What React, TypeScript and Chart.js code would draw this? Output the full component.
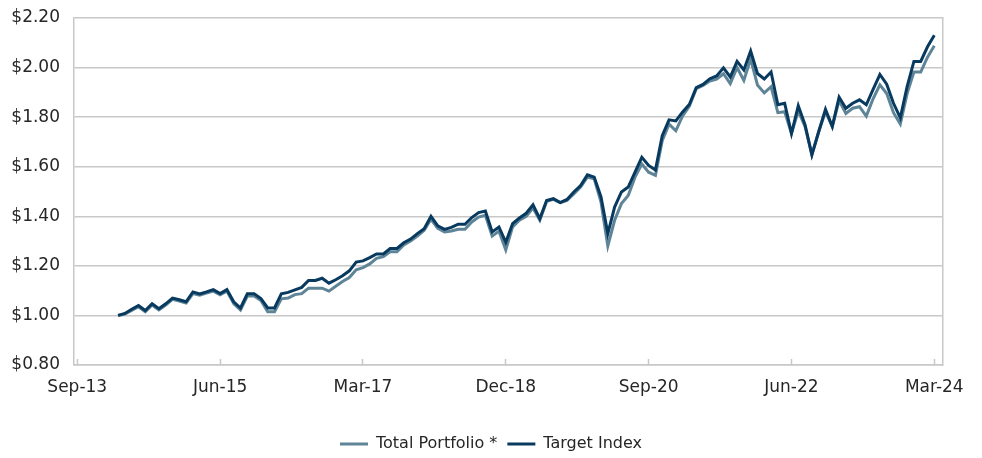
import React, { useEffect, useRef } from "react";
import { Chart, registerables } from "chart.js";

Chart.register(...registerables);

// Month index 0 = Sep-13; series start at Mar-14 (index 6), monthly to Mar-24 (index 126)
const START_MONTH = 6;
const TICK_STEP = 21;
const tickLabels = ["Sep-13", "Jun-15", "Mar-17", "Dec-18", "Sep-20", "Jun-22", "Mar-24"];

const targetIndex = [
  1.000, 1.008, 1.025, 1.040, 1.020, 1.047, 1.027, 1.047, 1.070, 1.063,
  1.055, 1.095, 1.087, 1.095, 1.104, 1.088, 1.104, 1.055, 1.030, 1.087,
  1.087, 1.068, 1.030, 1.030, 1.087, 1.093, 1.103, 1.113, 1.141, 1.141,
  1.150, 1.130, 1.144, 1.160, 1.180, 1.215, 1.220, 1.233, 1.248, 1.248,
  1.270, 1.270, 1.293, 1.308, 1.330, 1.350, 1.400, 1.361, 1.347, 1.355,
  1.368, 1.368, 1.395, 1.415, 1.421, 1.337, 1.357, 1.295, 1.370, 1.393,
  1.412, 1.446, 1.390, 1.464, 1.471, 1.455, 1.468, 1.498, 1.524, 1.567,
  1.558, 1.478, 1.330, 1.437, 1.498, 1.518, 1.578, 1.638, 1.605, 1.587,
  1.725, 1.789, 1.785, 1.821, 1.852, 1.919, 1.932, 1.955, 1.966, 1.999,
  1.962, 2.025, 1.990, 2.067, 1.976, 1.954, 1.982, 1.850, 1.856, 1.734,
  1.846, 1.769, 1.648, 1.741, 1.832, 1.762, 1.881, 1.836, 1.856, 1.870,
  1.850, 1.912, 1.972, 1.933, 1.856, 1.797, 1.923, 2.025, 2.025, 2.084,
  2.130,
];

const totalPortfolio = [
  1.000, 1.005, 1.020, 1.035, 1.015, 1.042, 1.022, 1.042, 1.065, 1.058,
  1.050, 1.088, 1.082, 1.090, 1.098, 1.083, 1.098, 1.048, 1.022, 1.078,
  1.078, 1.060, 1.015, 1.015, 1.067, 1.070, 1.084, 1.088, 1.110, 1.110,
  1.110, 1.098, 1.118, 1.137, 1.153, 1.184, 1.193, 1.208, 1.230, 1.237,
  1.257, 1.257, 1.284, 1.300, 1.320, 1.344, 1.388, 1.351, 1.337, 1.341,
  1.348, 1.348, 1.377, 1.397, 1.404, 1.320, 1.340, 1.264, 1.357, 1.384,
  1.400, 1.433, 1.384, 1.460, 1.468, 1.455, 1.464, 1.490, 1.518, 1.558,
  1.551, 1.457, 1.280, 1.384, 1.451, 1.484, 1.558, 1.611, 1.578, 1.565,
  1.705, 1.772, 1.745, 1.805, 1.845, 1.915, 1.928, 1.946, 1.953, 1.975,
  1.935, 2.000, 1.948, 2.035, 1.930, 1.898, 1.923, 1.818, 1.822, 1.734,
  1.825, 1.762, 1.648, 1.741, 1.822, 1.762, 1.867, 1.815, 1.836, 1.842,
  1.804, 1.874, 1.930, 1.895, 1.818, 1.772, 1.895, 1.982, 1.982, 2.042,
  2.088,
];

const FONT = "'DejaVu Sans', sans-serif";
const GRID = "#c8c8c8";
const TEXT = "#262626";

const toPoints = (arr: number[]) => arr.map((y, i) => ({ x: START_MONTH + i, y }));

export default function App() {
  const ref = useRef<HTMLCanvasElement | null>(null);

  useEffect(() => {
    if (!ref.current) return;
    const chart = new Chart(ref.current, {
      type: "line",
      data: {
        datasets: [
          {
            label: "Target Index",
            data: toPoints(targetIndex),
            borderColor: "#083a5f",
            backgroundColor: "#083a5f",
            borderWidth: 3,
            pointRadius: 0,
            tension: 0,
            fill: false,
          },
          {
            label: "Total Portfolio *",
            data: toPoints(totalPortfolio),
            borderColor: "#5e8497",
            backgroundColor: "#5e8497",
            borderWidth: 3,
            pointRadius: 0,
            tension: 0,
            fill: false,
          },
        ],
      },
      options: {
        animation: false,
        responsive: false,
        maintainAspectRatio: false,
        layout: { padding: { top: 18, left: 0, right: 0, bottom: -4 } },
        plugins: {
          tooltip: { enabled: false },
          legend: {
            position: "bottom",
            reverse: true,
            labels: {
              boxWidth: 28,
              boxHeight: 3,
              padding: 10,
              color: TEXT,
              font: { family: FONT, size: 16 },
              generateLabels: (c: any) =>
                Chart.defaults.plugins.legend.labels
                  .generateLabels(c)
                  .map((l: any) => ({ ...l, fillStyle: l.strokeStyle, lineWidth: 0 })),
            },
          },
        },
        scales: {
          x: {
            type: "linear",
            min: -0.48,
            max: 127.17,
            afterBuildTicks: (s: any) => {
              s.ticks = tickLabels.map((_, i) => ({ value: i * TICK_STEP }));
            },
            afterFit: (s: any) => {
              s.height = 61;
            },
            ticks: {
              autoSkip: false,
              maxRotation: 0,
              padding: 18,
              color: TEXT,
              font: { family: FONT, size: 17 },
              callback: (_v: any, i: number) => tickLabels[i],
            },
            grid: {
              drawOnChartArea: false,
              drawTicks: true,
              tickLength: -6,
              tickColor: GRID,
              tickWidth: 1.5,
            },
            border: { color: GRID, width: 1.5 },
          },
          y: {
            min: 0.8,
            max: 2.2,
            afterFit: (s: any) => {
              s.width = 74;
              s.paddingTop = 0;
              s.paddingBottom = 0;
            },
            ticks: {
              stepSize: 0.2,
              padding: 14,
              color: TEXT,
              font: { family: FONT, size: 17 },
              callback: (v: any) => "$" + Number(v).toFixed(2),
            },
            grid: { color: GRID, lineWidth: 1.5, drawTicks: false },
            border: { color: GRID, width: 1.5 },
          },
          y2: {
            position: "right",
            min: 0.8,
            max: 2.2,
            afterFit: (s: any) => {
              s.width = 34;
              s.paddingTop = 0;
              s.paddingBottom = 0;
            },
            ticks: { display: false },
            grid: { display: false, drawTicks: false },
            border: { display: true, color: GRID, width: 1.5 },
          },
        },
      },
    });
    return () => chart.destroy();
  }, []);

  return (
    <div style={{ position: "absolute", left: 0, top: 0, width: 982, height: 458, background: "#fff" }}>
      <canvas ref={ref} width={982} height={458} style={{ display: "block" }} />
    </div>
  );
}
